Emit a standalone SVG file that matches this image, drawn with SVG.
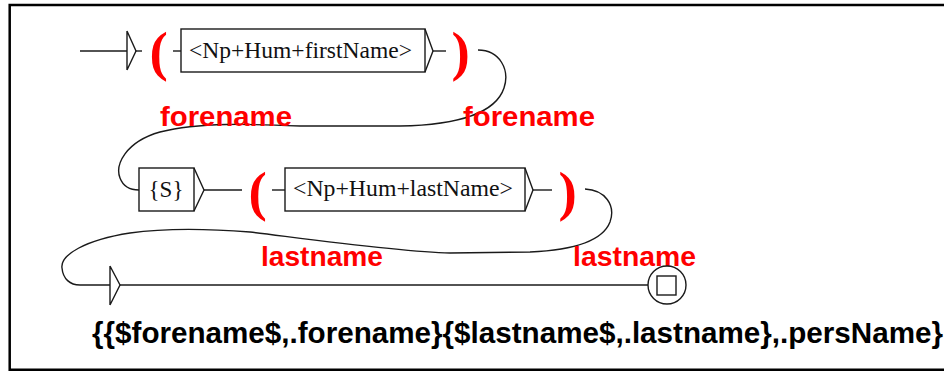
<svg xmlns="http://www.w3.org/2000/svg" width="944" height="371" viewBox="0 0 944 371">
<style>
.ln{fill:none;stroke:#1a1a1a;stroke-width:1.4}
.box{fill:#fff;stroke:#1a1a1a;stroke-width:1.4}
.bt{font-family:"Liberation Serif","Times New Roman",serif;font-size:23px;fill:#111}
.par{font-family:"Liberation Serif","Times New Roman",serif;font-weight:bold;font-size:55px;fill:#ff0000}
.var{font-family:"Liberation Sans",Arial,sans-serif;font-weight:bold;font-size:28px;fill:#ff0000}
.out{font-family:"Liberation Sans",Arial,sans-serif;font-weight:bold;font-size:29px;fill:#000}
</style>
<rect width="944" height="371" fill="#fff"/>
<path d="M944,5 L9.7,5 L9.7,369.7 L944,369.7" fill="none" stroke="#000" stroke-width="2.5"/>

<g id="connectors">
  <path class="ln" d="M80,51 L127,51"/>
  <path class="ln" d="M135,51 L142,51"/>
  <path class="ln" d="M173,51 L181,51"/>
  <path class="ln" d="M433,51 L446,51"/>
  <path class="ln" d="M478,50 C500,50 510,70 504,88 C496,112 460,125 400,126 L300,126 C250,124 200,122 160,132 C125,142 115,165 120,178 C123,186 130,190 139,190"/>
  <path class="ln" d="M204,190 L242,190"/>
  <path class="ln" d="M272,190 L285,190"/>
  <path class="ln" d="M533,190 L552,190"/>
  <path class="ln" d="M585,189 C605,190 616,205 610,222 C603,240 575,250 530,252 L450,253 C400,252 300,238 250,232 C200,228 165,228 130,233 C85,240 60,255 62,268 C63,279 70,285 80,285 L110,285"/>
  <path class="ln" d="M120,285 L648,285"/>
</g>

<g id="initial">
  <path class="ln" d="M127,31 L127,70 M127,31 L136,51 L127,70"/>
</g>

<g id="var-open-forename">
  <text class="par" x="149.5" y="70">(</text>
  <text class="var" x="160" y="126" textLength="132" lengthAdjust="spacingAndGlyphs">forename</text>
</g>

<g id="box-firstName">
  <rect class="box" x="181" y="29" width="244" height="43"/>
  <text class="bt" x="189" y="58" textLength="223" lengthAdjust="spacingAndGlyphs">&lt;Np+Hum+firstName&gt;</text>
  <path class="ln" d="M425,29 L433,51 L425,72"/>
</g>

<g id="var-close-forename">
  <text class="par" x="451.5" y="70">)</text>
  <text class="var" x="463" y="126" textLength="132" lengthAdjust="spacingAndGlyphs">forename</text>
</g>

<g id="box-S">
  <rect class="box" x="139" y="168" width="55" height="43"/>
  <text class="bt" x="166" y="197" text-anchor="middle">{S}</text>
  <path class="ln" d="M194,168 L204,190 L194,211"/>
</g>

<g id="var-open-lastname">
  <text class="par" x="248.5" y="210">(</text>
  <text class="var" x="261" y="266" textLength="122" lengthAdjust="spacingAndGlyphs">lastname</text>
</g>

<g id="box-lastName">
  <rect class="box" x="285" y="168" width="240" height="43"/>
  <text class="bt" x="293" y="196" textLength="220" lengthAdjust="spacingAndGlyphs">&lt;Np+Hum+lastName&gt;</text>
  <path class="ln" d="M525,168 L533,190 L525,211"/>
</g>

<g id="var-close-lastname">
  <text class="par" x="558.5" y="210">)</text>
  <text class="var" x="573" y="266" textLength="123" lengthAdjust="spacingAndGlyphs">lastname</text>
</g>

<g id="final-entry">
  <path class="ln" d="M110,266 L110,305 M110,266 L120,285 L110,305"/>
</g>

<g id="final">
  <circle class="box" cx="667" cy="285" r="19"/>
  <rect class="box" x="657" y="276" width="19" height="19"/>
</g>

<g id="output">
  <text class="out" x="92" y="343" textLength="851" lengthAdjust="spacingAndGlyphs">{{$forename$,.forename}{$lastname$,.lastname},.persName}</text>
</g>
</svg>
